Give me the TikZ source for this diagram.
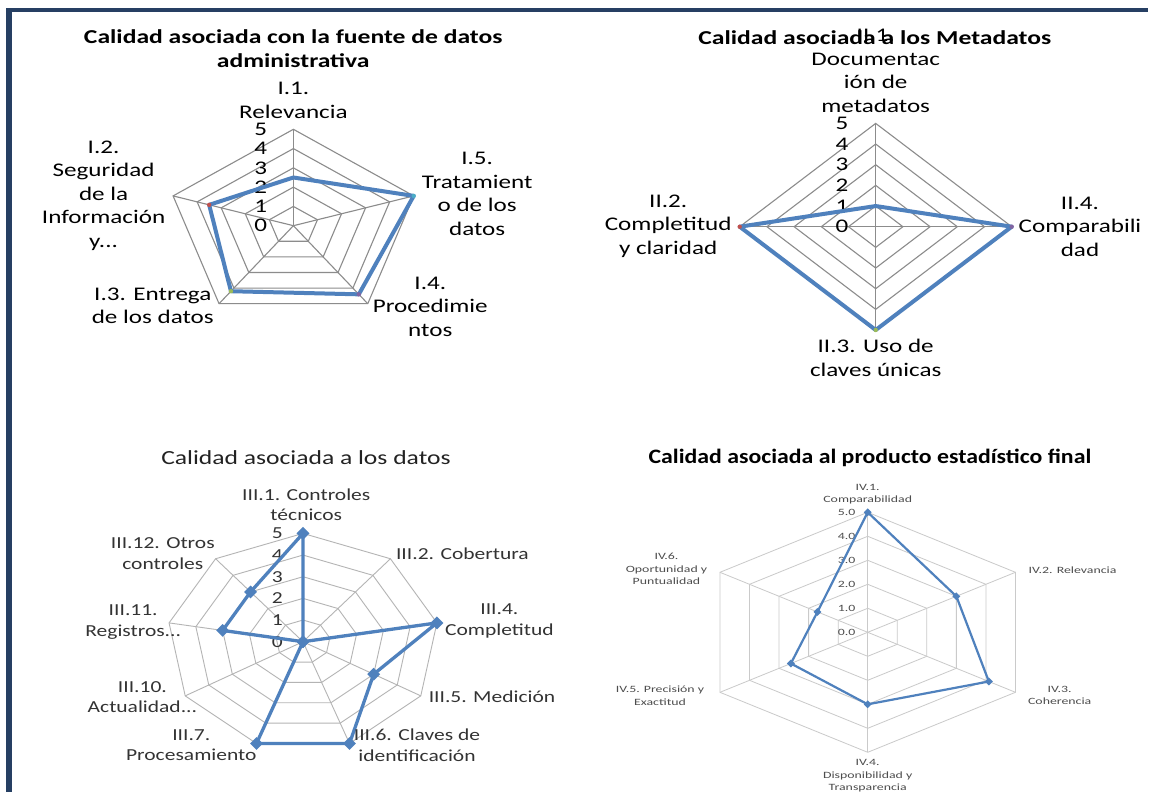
\documentclass[tikz,border=0pt]{standalone}
\usepackage{fontspec}
\setmainfont{Carlito}
\newfontfamily\wideA[FakeStretch=1.3]{Carlito}
\newfontfamily\wideB[FakeStretch=1.28]{Carlito}
\newfontfamily\wideC[FakeStretch=1.44]{Carlito}
\newfontfamily\wideD[FakeStretch=1.16]{Carlito}
\usetikzlibrary{shapes.geometric}
\definecolor{marco}{HTML}{263F63}
\definecolor{serie}{HTML}{4F81BD}
\definecolor{grida}{HTML}{8C8C8C}
\definecolor{gridb}{HTML}{B4B4B4}
\definecolor{gridc}{HTML}{CACACA}
\definecolor{txtb}{HTML}{333333}
\definecolor{titb}{HTML}{222222}
\definecolor{txtc}{HTML}{4D4D4D}
\definecolor{mkred}{HTML}{C0504D}
\definecolor{mkgreen}{HTML}{9BBB59}
\definecolor{mkpurple}{HTML}{8064A2}
\definecolor{mkcyan}{HTML}{4BACC6}

\begin{document}
\begin{tikzpicture}[x=1pt,y=-1pt,
  labA/.style={font=\wideA\fontsize{19.3}{23.5}\selectfont,align=center,inner sep=0pt},
  titA/.style={font=\wideA\bfseries\fontsize{19.7}{24}\selectfont,align=center,inner sep=0pt},
  labB/.style={font=\wideB\fontsize{16.8}{20.5}\selectfont,text=txtb,align=center,inner sep=0pt},
  titB/.style={font=\wideB\fontsize{20}{24}\selectfont,text=titb,inner sep=0pt},
  labC/.style={font=\wideC\fontsize{9.6}{12.5}\selectfont,text=txtc,align=center,inner sep=0pt},
  titC/.style={font=\wideD\bfseries\fontsize{20.5}{24}\selectfont,inner sep=0pt},
  ringA/.style={draw=grida,line width=1.1pt},
  ringB/.style={draw=gridb,line width=0.9pt},
  ringC/.style={draw=gridc,line width=0.8pt},
  serieA/.style={draw=serie,line width=4pt,line join=round},
  serieB/.style={draw=serie,line width=3.3pt,line join=round},
  serieC/.style={draw=serie,line width=2.2pt,line join=round},
  mkB/.style={diamond,fill=serie,inner sep=0pt,minimum size=13pt},
  mkC/.style={diamond,fill=serie,inner sep=0pt,minimum size=8pt}]
      \useasboundingbox[fill=white] (0,0) rectangle (1149,792);
      \fill[marco] (5.5,8) rectangle (1148,12.5);
      \fill[marco] (5.5,8) rectangle (11.5,792);

      \begin{scope}[shift={(293.4,225.7)},x=25.3pt,y=19.28pt]
        \foreach \r in {1,...,5}
          \draw[ringA] (90:\r) -- (162:\r) -- (234:\r) -- (306:\r) -- (18:\r) -- cycle;
        \foreach \a in {90,162,234,306,18}
          \draw[ringA] (0,0) -- (\a:5);
        \foreach \r in {0,...,5}
          \path (-1.29,\r) node[labA](dA\r) {\r};
        \draw[serieA] (90:2.5) coordinate(pA1) -- (162:3.5) coordinate(pA2)
          -- (234:4.2) coordinate(pA3) -- (306:4.4) coordinate(pA4)
          -- (18:5) coordinate(pA5) -- cycle;
        \fill[mkred] (pA2) circle[radius=2.2pt];
        \fill[mkgreen] (pA3) circle[radius=2.2pt];
        \fill[mkpurple] (pA4) circle[radius=2.2pt];
        \fill[mkcyan] (pA5) circle[radius=2.2pt];
      \end{scope}
      \path
      (293.4,100.5) node[labA](i1) {I.1.\\Relevancia}
      (103.6,195.5) node[labA](i2) {I.2.\\Seguridad\\de la\\Información\\y...}
      (152.8,306) node[labA](i3) {I.3. Entrega\\de los datos}
      (430.3,306.5) node[labA](i4) {I.4.\\Procedimie\\ntos}
      (477.2,194) node[labA](i5) {I.5.\\Tratamient\\o de los\\datos}
      ;
      \path (293.2,49) node[titA](tA) {Calidad asociada con la fuente de datos\\administrativa};

      \begin{scope}[shift={(875.7,226.7)},x=27.2pt,y=20.66pt]
        \foreach \r in {1,...,5}
          \draw[ringA] (90:\r) -- (180:\r) -- (270:\r) -- (0:\r) -- cycle;
        \foreach \a in {90,180,270,0}
          \draw[ringA] (0,0) -- (\a:5);
        \foreach \r in {0,...,5}
          \path (-1.24,\r) node[labA](dB\r) {\r};
        \draw[serieA] (90:1) coordinate(pB1) -- (180:5) coordinate(pB2)
          -- (270:5) coordinate(pB3) -- (0:5) coordinate(pB4) -- cycle;
        \fill[mkred] (pB2) circle[radius=2.2pt];
        \fill[mkgreen] (pB3) circle[radius=2.2pt];
        \fill[mkpurple] (pB4) circle[radius=2.2pt];
      \end{scope}
      \path
      (875.7,70.7) node[labA](ii1) {II.1.\\Documentac\\ión de\\metadatos}
      (668.2,226) node[labA](ii2) {II.2.\\Completitud\\y claridad}
      (875.7,358) node[labA](ii3) {II.3. Uso de\\claves únicas}
      (1080,226.5) node[labA](ii4) {II.4.\\Comparabili\\dad}
      ;
      \path (874.8,38) node[titA](tB) {Calidad asociada a los Metadatos};

      \begin{scope}[shift={(303,641.7)},x=27.2pt,y=21.66pt]
        \foreach \r in {1,...,5}
          \draw[ringB] (90:\r) \foreach \a in {130,170,...,410} {-- (\a:\r)} -- cycle;
        \foreach \a in {90,130,...,410}
          \draw[ringB] (0,0) -- (\a:5);
        \foreach \r in {0,...,5}
          \path (-0.94,\r) node[labB](dC\r) {\r};
        \draw[serieB] (90:5) coordinate(pC1) -- (50:0) coordinate(pC2)
          -- (10:5) coordinate(pC4) -- (-30:3) coordinate(pC5)
          -- (-70:5) coordinate(pC6) -- (-110:5) coordinate(pC7)
          -- (-150:0) coordinate(pC10) -- (170:3) coordinate(pC11)
          -- (130:3) coordinate(pC12) -- cycle;
        \foreach \p in {1,2,4,5,6,7,10,11,12}
          \node[mkB](mC\p) at (pC\p) {};
      \end{scope}
      \path
      (306.3,504.5) node[labB](iii1) {III.1. Controles\\técnicos}
      (462.4,553.3) node[labB](iii2) {III.2. Cobertura}
      (499.4,621.2) node[labB](iii4) {III.4.\\Completitud}
      (492,696.7) node[labB](iii5) {III.5. Medición}
      (417,745) node[labB](iii6) {III.6. Claves de\\identificación}
      (191.3,745) node[labB](iii7) {III.7.\\Procesamiento}
      (142.4,697) node[labB](iii10) {III.10.\\Actualidad...}
      (133.2,622.2) node[labB](iii11) {III.11.\\Registros...}
      (162.8,553.7) node[labB](iii12) {III.12. Otros\\controles}
      ;
      \path (306,457.3) node[titB](tC) {Calidad asociada a los datos};

      \begin{scope}[shift={(867.7,632.3)},x=34.12pt,y=24pt]
        \foreach \r in {1,...,5}
          \draw[ringC] (90:\r) -- (150:\r) -- (210:\r) -- (270:\r) -- (330:\r) -- (30:\r) -- cycle;
        \foreach \a in {90,150,210,270,330,30}
          \draw[ringC] (0,0) -- (\a:5);
        \foreach \r in {0,...,5}
          \path (-0.62,\r) node[labC](dD\r) {\r.0};
        \draw[serieC] (90:5) coordinate(pD1) -- (30:3) coordinate(pD2)
          -- (-30:4.1) coordinate(pD3) -- (-90:3) coordinate(pD4)
          -- (-150:2.6) coordinate(pD5) -- (150:1.7) coordinate(pD6) -- cycle;
        \foreach \p in {1,...,6}
          \node[mkC](mD\p) at (pD\p) {};
      \end{scope}
      \path
      (867.7,494) node[labC](iv1) {IV.1.\\Comparabilidad}
      (1072.6,570) node[labC](iv2) {IV.2. Relevancia}
      (1059.7,695.5) node[labC](iv3) {IV.3.\\Coherencia}
      (867.7,776) node[labC](iv4) {IV.4.\\Disponibilidad y\\Transparencia}
      (660,695.5) node[labC](iv5) {IV.5. Precisión y\\Exactitud}
      (666.5,569) node[labC](iv6) {IV.6.\\Oportunidad y\\Puntualidad}
      ;
      \path (869.9,458.3) node[titC](tD) {Calidad asociada al producto estadístico final};
    \end{tikzpicture}
\end{document}
